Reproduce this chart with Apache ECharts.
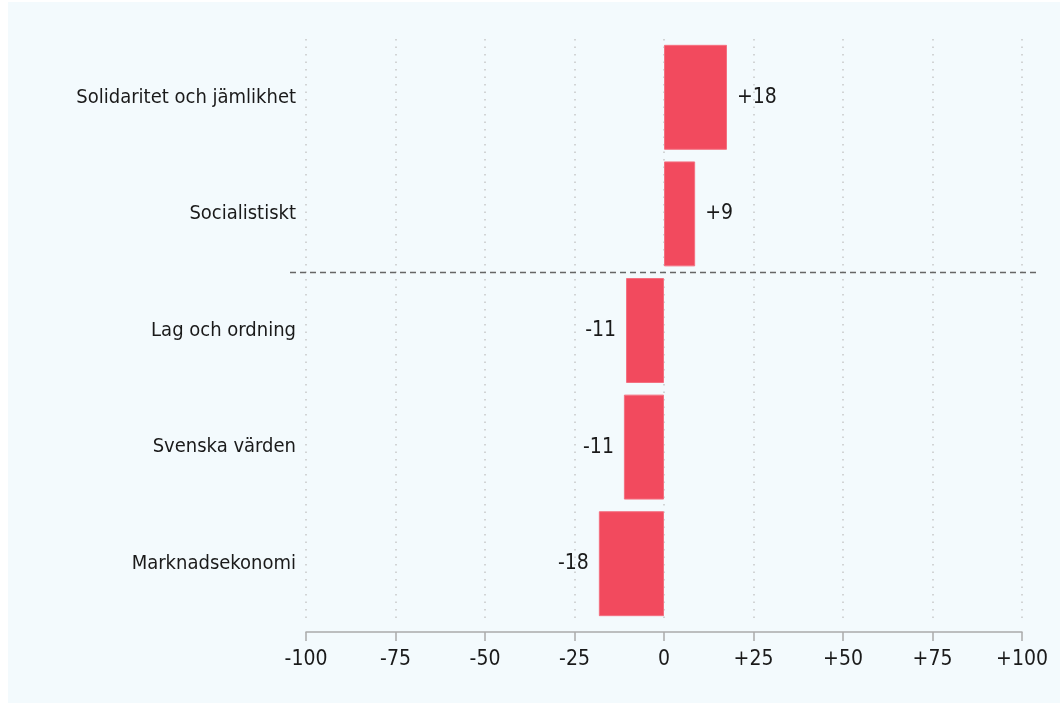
<!DOCTYPE html>
<html><head><meta charset="utf-8">
<script src="https://cdn.jsdelivr.net/npm/echarts@6/dist/echarts.min.js"></script>
<style>html,body{margin:0;padding:0;background:#fff}#c{position:absolute;left:8px;top:2px;width:1052px;height:701px;background:#f3fafd}</style>
</head><body><div id="c"></div>
<script>
const categories = ['Solidaritet och jämlikhet','Socialistiskt','Lag och ordning','Svenska värden','Marknadsekonomi'];
const values = [17.6, 8.7, -10.6, -11.2, -18.2];
const dividerAfter = [1];
const FONT = '"Liberation Sans Narrow","DejaVu Sans Condensed",sans-serif';
const fmt = v => (v > 0 ? '+' : '') + Math.round(v);
const chart = echarts.init(document.getElementById('c'));
chart.setOption({
  animation: false,
  grid: {left: 298, right: 38, top: 37, bottom: 81},
  xAxis: {
    type: 'value', min: -100, max: 100, interval: 25,
    offset: 10,
    axisLine: {show: true, lineStyle: {color: '#aaaaaa', width: 1.5}},
    axisTick: {show: true, length: 9, lineStyle: {color: '#aaaaaa', width: 1.5}},
    axisLabel: {formatter: v => fmt(v), color: '#1a1a1a', fontFamily: FONT, fontSize: 21, margin: 17},
    splitLine: {show: true, lineStyle: {color: '#c8c8c8', type: [1.5, 6], width: 1.5}}
  },
  yAxis: {
    type: 'category', data: categories, inverse: true,
    axisLine: {show: false}, axisTick: {show: false},
    axisLabel: {color: '#1a1a1a', fontFamily: FONT, fontSize: 20, margin: 10},
    splitLine: {show: false}
  },
  series: [{
    type: 'bar', barCategoryGap: '10%',
    data: values.map(v => ({value: v, label: {position: v < 0 ? 'left' : 'right'}})),
    itemStyle: {color: '#f24a5e', borderColor: '#f47080', borderWidth: 1},
    label: {show: true, formatter: p => fmt(p.value), color: '#1a1a1a', fontFamily: FONT, fontSize: 21, distance: 10}
  }, {
    type: 'custom', data: dividerAfter.map(i => [0, i]), silent: true,
    encode: {x: 0, y: 1},
    renderItem: function(params, api) {
      const i = dividerAfter[params.dataIndex];
      const a = api.coord([0, i]);
      const b = api.coord([0, i + 1]);
      const y = Math.round((a[1] + b[1]) / 2) + 0.5;
      const cs = params.coordSys;
      return {type: 'line', shape: {x1: cs.x - 16, y1: y, x2: cs.x + cs.width + 14, y2: y},
        style: {stroke: '#666666', lineWidth: 1.4, lineDash: [6, 4]}};
    }
  }]
});
</script></body></html>
